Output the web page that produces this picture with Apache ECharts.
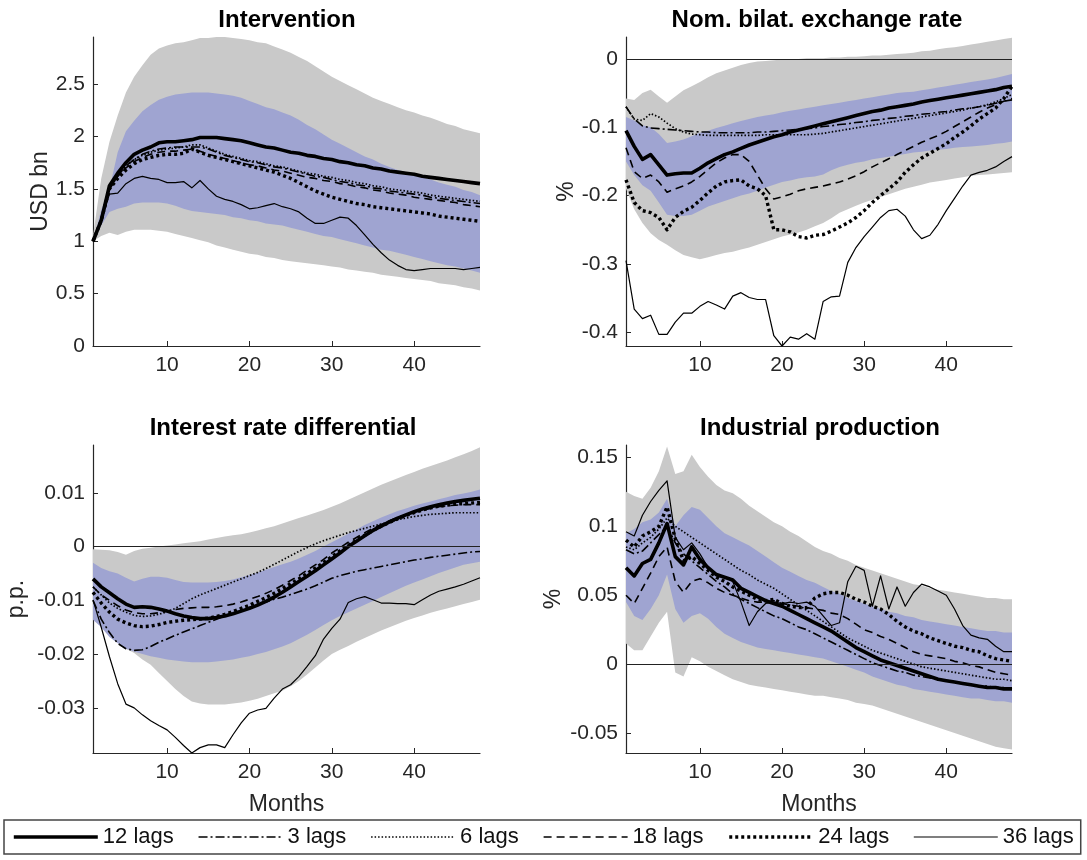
<!DOCTYPE html>
<html><head><meta charset="utf-8">
<script src="https://cdn.jsdelivr.net/npm/echarts@6/dist/echarts.min.js"></script>
<style>html,body{margin:0;padding:0;background:#fff}#c{width:1087px;height:860px}</style>
</head><body><div id="c"></div>
<script>
// ---------- data ----------
const months = [1,2,3,4,5,6,7,8,9,10,11,12,13,14,15,16,17,18,19,20,21,22,23,24,25,26,27,28,29,30,31,32,33,34,35,36,37,38,39,40,41,42,43,44,45,46,47,48];
const xTickValues = [10,20,30,40];
const lagNames = ['12 lags','3 lags','6 lags','18 lags','24 lags','36 lags'];
const panelTitles = ['Intervention','Nom. bilat. exchange rate','Interest rate differential','Industrial production'];
const yNames = ['USD bn','%','p.p.','%'];
const xName = 'Months';
const yTicks1 = [0,0.5,1,1.5,2,2.5];
const yTicks2 = [-0.4,-0.3,-0.2,-0.1,0];
const yTicks3 = [-0.03,-0.02,-0.01,0,0.01];
const yTicks4 = [-0.05,0,0.05,0.1,0.15];

// Panel 1: Intervention
const p1_12 = [1.0,1.2,1.53,1.65,1.75,1.83,1.87,1.9,1.94,1.95,1.95,1.96,1.97,1.99,1.99,1.99,1.98,1.97,1.96,1.94,1.92,1.9,1.89,1.87,1.85,1.84,1.82,1.81,1.79,1.78,1.76,1.75,1.73,1.72,1.7,1.69,1.67,1.66,1.65,1.64,1.62,1.61,1.6,1.59,1.58,1.57,1.56,1.55];
const p1_3 = [1.0,1.2,1.5,1.62,1.72,1.78,1.83,1.86,1.88,1.89,1.9,1.9,1.9,1.9,1.88,1.85,1.82,1.8,1.78,1.76,1.75,1.73,1.71,1.7,1.68,1.66,1.64,1.62,1.61,1.59,1.57,1.56,1.54,1.53,1.51,1.5,1.48,1.47,1.46,1.45,1.44,1.42,1.41,1.4,1.39,1.38,1.37,1.36];
const p1_6 = [1.0,1.22,1.5,1.63,1.72,1.78,1.82,1.85,1.87,1.88,1.89,1.9,1.92,1.92,1.89,1.86,1.83,1.81,1.79,1.77,1.76,1.74,1.72,1.71,1.69,1.67,1.65,1.64,1.62,1.61,1.59,1.58,1.56,1.55,1.53,1.52,1.5,1.49,1.48,1.47,1.46,1.44,1.43,1.42,1.41,1.4,1.39,1.38];
const p1_18 = [1.0,1.2,1.5,1.62,1.7,1.76,1.8,1.83,1.85,1.86,1.86,1.87,1.88,1.86,1.83,1.81,1.79,1.77,1.75,1.73,1.72,1.7,1.68,1.67,1.65,1.63,1.61,1.6,1.58,1.57,1.55,1.54,1.52,1.51,1.49,1.48,1.46,1.45,1.44,1.42,1.41,1.4,1.39,1.38,1.37,1.35,1.34,1.33];
const p1_24 = [1.0,1.2,1.5,1.6,1.68,1.74,1.78,1.8,1.82,1.83,1.83,1.84,1.88,1.85,1.82,1.8,1.78,1.76,1.74,1.72,1.7,1.68,1.66,1.63,1.6,1.56,1.52,1.48,1.45,1.42,1.4,1.38,1.36,1.35,1.33,1.32,1.31,1.3,1.29,1.28,1.27,1.26,1.24,1.23,1.22,1.21,1.2,1.19];
const p1_36 = [1.0,1.2,1.45,1.46,1.55,1.6,1.62,1.6,1.59,1.56,1.56,1.57,1.51,1.58,1.5,1.43,1.4,1.38,1.35,1.31,1.32,1.34,1.36,1.33,1.31,1.28,1.22,1.17,1.17,1.2,1.23,1.22,1.15,1.06,0.97,0.89,0.82,0.77,0.73,0.72,0.73,0.74,0.74,0.74,0.74,0.73,0.74,0.75];
const p1_grayHi = [1.05,1.6,1.95,2.2,2.42,2.57,2.68,2.78,2.84,2.87,2.89,2.9,2.92,2.94,2.94,2.95,2.95,2.94,2.93,2.92,2.9,2.89,2.86,2.83,2.8,2.76,2.72,2.67,2.62,2.57,2.53,2.49,2.45,2.41,2.37,2.34,2.31,2.28,2.25,2.23,2.2,2.18,2.15,2.12,2.1,2.07,2.05,2.03];
const p1_grayLo = [1.0,1.05,1.08,1.06,1.09,1.11,1.11,1.11,1.1,1.09,1.07,1.05,1.03,1.01,0.99,0.96,0.94,0.92,0.9,0.88,0.87,0.85,0.84,0.82,0.81,0.8,0.79,0.78,0.77,0.76,0.75,0.73,0.72,0.71,0.7,0.68,0.67,0.66,0.65,0.64,0.63,0.62,0.6,0.59,0.58,0.56,0.55,0.53];
const p1_blueHi = [1.0,1.3,1.5,1.85,2.05,2.15,2.24,2.3,2.35,2.38,2.4,2.41,2.42,2.42,2.42,2.41,2.4,2.39,2.37,2.34,2.31,2.28,2.26,2.23,2.2,2.16,2.11,2.07,2.02,1.97,1.93,1.89,1.85,1.81,1.78,1.74,1.71,1.68,1.66,1.63,1.61,1.59,1.56,1.54,1.52,1.49,1.47,1.44];
const p1_blueLo = [1.0,1.15,1.28,1.31,1.33,1.36,1.37,1.37,1.37,1.36,1.34,1.31,1.29,1.28,1.27,1.26,1.25,1.23,1.22,1.2,1.19,1.17,1.16,1.15,1.13,1.11,1.09,1.07,1.05,1.04,1.02,1.0,0.98,0.96,0.94,0.92,0.91,0.89,0.87,0.85,0.83,0.81,0.79,0.77,0.76,0.74,0.72,0.7];

// Panel 2: Nominal bilateral exchange rate
const p2_12 = [-0.105,-0.128,-0.147,-0.14,-0.155,-0.17,-0.168,-0.167,-0.167,-0.16,-0.152,-0.146,-0.14,-0.136,-0.131,-0.126,-0.122,-0.118,-0.114,-0.111,-0.107,-0.104,-0.101,-0.098,-0.095,-0.092,-0.089,-0.086,-0.083,-0.08,-0.077,-0.075,-0.072,-0.07,-0.068,-0.066,-0.063,-0.061,-0.059,-0.057,-0.055,-0.053,-0.051,-0.049,-0.047,-0.045,-0.042,-0.04];
const p2_3 = [-0.07,-0.088,-0.098,-0.101,-0.102,-0.103,-0.104,-0.105,-0.106,-0.107,-0.107,-0.108,-0.108,-0.108,-0.108,-0.108,-0.107,-0.107,-0.106,-0.105,-0.104,-0.103,-0.102,-0.101,-0.099,-0.098,-0.096,-0.095,-0.093,-0.092,-0.09,-0.089,-0.087,-0.086,-0.084,-0.083,-0.081,-0.08,-0.078,-0.077,-0.075,-0.073,-0.072,-0.07,-0.068,-0.065,-0.062,-0.06];
const p2_6 = [-0.07,-0.088,-0.09,-0.08,-0.085,-0.094,-0.102,-0.107,-0.11,-0.111,-0.112,-0.112,-0.112,-0.112,-0.112,-0.112,-0.112,-0.111,-0.111,-0.111,-0.111,-0.111,-0.111,-0.11,-0.109,-0.107,-0.105,-0.103,-0.101,-0.099,-0.097,-0.095,-0.093,-0.091,-0.089,-0.087,-0.085,-0.083,-0.081,-0.079,-0.077,-0.075,-0.072,-0.07,-0.067,-0.063,-0.058,-0.052];
const p2_18 = [-0.13,-0.165,-0.175,-0.17,-0.18,-0.195,-0.19,-0.186,-0.18,-0.172,-0.162,-0.152,-0.145,-0.14,-0.14,-0.15,-0.17,-0.19,-0.205,-0.202,-0.198,-0.193,-0.19,-0.188,-0.186,-0.183,-0.18,-0.176,-0.171,-0.165,-0.158,-0.152,-0.146,-0.14,-0.134,-0.128,-0.122,-0.117,-0.112,-0.106,-0.099,-0.092,-0.085,-0.078,-0.072,-0.067,-0.062,-0.058];
const p2_24 = [-0.177,-0.21,-0.222,-0.225,-0.232,-0.25,-0.232,-0.223,-0.217,-0.207,-0.196,-0.186,-0.18,-0.178,-0.177,-0.186,-0.19,-0.2,-0.25,-0.25,-0.253,-0.26,-0.262,-0.258,-0.257,-0.252,-0.246,-0.24,-0.232,-0.222,-0.21,-0.2,-0.19,-0.18,-0.166,-0.155,-0.145,-0.138,-0.131,-0.124,-0.115,-0.107,-0.098,-0.088,-0.08,-0.072,-0.058,-0.04];
const p2_36 = [-0.295,-0.366,-0.38,-0.375,-0.403,-0.403,-0.385,-0.372,-0.372,-0.362,-0.355,-0.36,-0.366,-0.347,-0.342,-0.349,-0.352,-0.352,-0.405,-0.42,-0.407,-0.41,-0.402,-0.41,-0.355,-0.348,-0.347,-0.298,-0.276,-0.26,-0.246,-0.232,-0.222,-0.22,-0.23,-0.25,-0.263,-0.258,-0.242,-0.222,-0.204,-0.186,-0.17,-0.166,-0.163,-0.158,-0.15,-0.143];
const p2_grayHi = [-0.058,-0.06,-0.05,-0.045,-0.055,-0.064,-0.055,-0.046,-0.04,-0.034,-0.027,-0.021,-0.017,-0.013,-0.009,-0.006,-0.004,-0.003,-0.002,-0.001,0,0,0.001,0.001,0.001,0.002,0.002,0.003,0.003,0.004,0.005,0.005,0.006,0.007,0.008,0.009,0.011,0.012,0.014,0.016,0.017,0.019,0.021,0.023,0.025,0.027,0.029,0.031];
const p2_grayLo = [-0.19,-0.22,-0.24,-0.255,-0.265,-0.272,-0.28,-0.287,-0.29,-0.293,-0.29,-0.287,-0.284,-0.282,-0.279,-0.276,-0.272,-0.268,-0.264,-0.26,-0.257,-0.254,-0.25,-0.245,-0.24,-0.233,-0.225,-0.22,-0.215,-0.21,-0.206,-0.202,-0.198,-0.194,-0.19,-0.187,-0.184,-0.181,-0.179,-0.177,-0.175,-0.173,-0.171,-0.17,-0.169,-0.168,-0.167,-0.166];
const p2_blueHi = [-0.085,-0.09,-0.097,-0.1,-0.11,-0.123,-0.121,-0.118,-0.113,-0.108,-0.105,-0.101,-0.098,-0.094,-0.091,-0.088,-0.085,-0.083,-0.081,-0.078,-0.076,-0.074,-0.072,-0.07,-0.068,-0.066,-0.064,-0.062,-0.06,-0.058,-0.056,-0.054,-0.052,-0.05,-0.049,-0.048,-0.046,-0.044,-0.042,-0.04,-0.038,-0.036,-0.034,-0.032,-0.03,-0.028,-0.025,-0.022];
const p2_blueLo = [-0.15,-0.17,-0.185,-0.193,-0.21,-0.228,-0.23,-0.23,-0.228,-0.222,-0.216,-0.212,-0.208,-0.204,-0.2,-0.197,-0.193,-0.188,-0.184,-0.18,-0.178,-0.175,-0.173,-0.172,-0.169,-0.163,-0.158,-0.155,-0.152,-0.15,-0.147,-0.145,-0.143,-0.141,-0.139,-0.137,-0.136,-0.134,-0.133,-0.132,-0.13,-0.129,-0.128,-0.127,-0.126,-0.124,-0.123,-0.121];

// Panel 3: Interest rate differential
const p3_12 = [-0.006,-0.0075,-0.0086,-0.0097,-0.0107,-0.0113,-0.0112,-0.0113,-0.0116,-0.012,-0.0125,-0.0129,-0.0132,-0.0134,-0.0134,-0.0132,-0.0129,-0.0125,-0.012,-0.0115,-0.0109,-0.0102,-0.0094,-0.0085,-0.0075,-0.0065,-0.0055,-0.0045,-0.0034,-0.0023,-0.0012,0,0.001,0.002,0.003,0.0038,0.0046,0.0053,0.0059,0.0065,0.007,0.0074,0.0078,0.0081,0.0084,0.0086,0.0088,0.009];
const p3_3 = [-0.01,-0.0135,-0.016,-0.018,-0.019,-0.0193,-0.0192,-0.0186,-0.0178,-0.0172,-0.0165,-0.0159,-0.0153,-0.0147,-0.0141,-0.0135,-0.0129,-0.0124,-0.0118,-0.0113,-0.0107,-0.0103,-0.0098,-0.0094,-0.0089,-0.0084,-0.0079,-0.0073,-0.0066,-0.0059,-0.0054,-0.005,-0.0046,-0.0043,-0.004,-0.0037,-0.0034,-0.0031,-0.0028,-0.0025,-0.0023,-0.002,-0.0018,-0.0016,-0.0014,-0.0012,-0.001,-0.0009];
const p3_6 = [-0.0075,-0.009,-0.0105,-0.0115,-0.0122,-0.0128,-0.013,-0.0129,-0.0126,-0.0121,-0.0115,-0.0106,-0.0097,-0.009,-0.0084,-0.0078,-0.0072,-0.0066,-0.006,-0.0054,-0.0048,-0.0041,-0.0033,-0.0025,-0.0017,-0.0009,-0.0002,0.0005,0.0011,0.0016,0.0021,0.0026,0.003,0.0034,0.0038,0.0042,0.0046,0.005,0.0053,0.0056,0.0058,0.006,0.0061,0.0062,0.0063,0.0063,0.0063,0.0063];
const p3_18 = [-0.0075,-0.009,-0.01,-0.011,-0.0118,-0.0123,-0.0125,-0.0125,-0.0123,-0.012,-0.0117,-0.0115,-0.0114,-0.0113,-0.0113,-0.0112,-0.011,-0.0107,-0.0103,-0.0098,-0.0093,-0.0087,-0.008,-0.0072,-0.0063,-0.0054,-0.0044,-0.0034,-0.0024,-0.0012,-0.0002,0.0008,0.0017,0.0026,0.0034,0.0041,0.0048,0.0054,0.0059,0.0064,0.0068,0.0071,0.0074,0.0076,0.0077,0.0078,0.0078,0.0078];
const p3_24 = [-0.0085,-0.0105,-0.0122,-0.0135,-0.0142,-0.0147,-0.0149,-0.0148,-0.0145,-0.0141,-0.0139,-0.0137,-0.0136,-0.0135,-0.0133,-0.013,-0.0126,-0.0121,-0.0115,-0.0109,-0.0102,-0.0095,-0.0087,-0.0078,-0.0069,-0.006,-0.005,-0.004,-0.003,-0.0019,-0.0008,0.0002,0.0012,0.0021,0.003,0.0038,0.0045,0.0052,0.0058,0.0063,0.0068,0.0072,0.0075,0.0077,0.0079,0.008,0.0081,0.0082];
const p3_36 = [-0.0099,-0.015,-0.0205,-0.0255,-0.0293,-0.03,-0.0313,-0.0324,-0.0333,-0.0341,-0.0355,-0.037,-0.0384,-0.0374,-0.0369,-0.0369,-0.0374,-0.035,-0.0328,-0.031,-0.0304,-0.0301,-0.0282,-0.0265,-0.0257,-0.0242,-0.0223,-0.0203,-0.0172,-0.0152,-0.0135,-0.0104,-0.0097,-0.0093,-0.0099,-0.0105,-0.0105,-0.0106,-0.0106,-0.0108,-0.0099,-0.009,-0.0083,-0.0079,-0.0075,-0.007,-0.0064,-0.0058];
const p3_grayHi = [-0.0005,-0.0006,-0.0007,-0.001,-0.0015,-0.0008,-0.0004,-0.0002,0,0.0002,0.0004,0.0006,0.0008,0.001,0.0013,0.0016,0.0019,0.0021,0.0023,0.0026,0.003,0.0034,0.0038,0.0043,0.0048,0.0053,0.0058,0.0063,0.0068,0.0074,0.008,0.0087,0.0094,0.0101,0.0108,0.0115,0.0121,0.0127,0.0133,0.0139,0.0145,0.015,0.0155,0.016,0.0166,0.0172,0.0178,0.0185];
const p3_grayLo = [-0.0093,-0.012,-0.015,-0.017,-0.019,-0.0198,-0.021,-0.022,-0.0235,-0.025,-0.0265,-0.0278,-0.0288,-0.0292,-0.0294,-0.0294,-0.0294,-0.0292,-0.029,-0.0287,-0.0283,-0.0278,-0.0273,-0.0268,-0.026,-0.025,-0.0238,-0.0225,-0.0212,-0.02,-0.0192,-0.0185,-0.0177,-0.017,-0.0163,-0.0156,-0.015,-0.0144,-0.0138,-0.0133,-0.0128,-0.0123,-0.0119,-0.0115,-0.0111,-0.0107,-0.0103,-0.0099];
const p3_blueHi = [-0.003,-0.004,-0.0046,-0.005,-0.0058,-0.0065,-0.006,-0.0056,-0.0056,-0.0058,-0.0062,-0.0066,-0.0067,-0.0067,-0.0067,-0.0066,-0.0064,-0.0061,-0.0057,-0.0053,-0.0048,-0.0043,-0.0038,-0.0033,-0.0028,-0.0022,-0.0015,-0.0008,0,0.0008,0.0016,0.0024,0.0032,0.004,0.0047,0.0054,0.006,0.0066,0.0071,0.0076,0.008,0.0084,0.0088,0.0092,0.0096,0.0099,0.0102,0.0106];
const p3_blueLo = [-0.0136,-0.015,-0.0168,-0.018,-0.019,-0.0195,-0.02,-0.0204,-0.0207,-0.021,-0.0212,-0.0214,-0.0215,-0.0215,-0.0215,-0.0214,-0.0212,-0.021,-0.0207,-0.0204,-0.02,-0.0196,-0.0191,-0.0186,-0.018,-0.0172,-0.0164,-0.0155,-0.0146,-0.0137,-0.0129,-0.0122,-0.0115,-0.0108,-0.0101,-0.0094,-0.0087,-0.008,-0.0073,-0.0067,-0.0061,-0.0055,-0.0049,-0.0044,-0.0039,-0.0034,-0.0031,-0.0028];

// Panel 4: Industrial production
const p4_12 = [0.07,0.064,0.073,0.076,0.088,0.102,0.078,0.072,0.085,0.076,0.07,0.065,0.063,0.061,0.055,0.052,0.049,0.046,0.044,0.042,0.039,0.036,0.033,0.03,0.027,0.024,0.02,0.016,0.012,0.009,0.006,0.003,0.001,-0.001,-0.003,-0.005,-0.007,-0.009,-0.011,-0.012,-0.013,-0.014,-0.015,-0.016,-0.017,-0.017,-0.018,-0.018];
const p4_3 = [0.083,0.08,0.082,0.088,0.094,0.1,0.088,0.08,0.075,0.07,0.065,0.06,0.056,0.051,0.047,0.044,0.041,0.038,0.035,0.033,0.03,0.027,0.025,0.022,0.019,0.016,0.013,0.01,0.007,0.004,0.001,-0.001,-0.003,-0.005,-0.006,-0.008,-0.009,-0.01,-0.011,-0.012,-0.013,-0.014,-0.015,-0.016,-0.016,-0.017,-0.017,-0.018];
const p4_6 = [0.085,0.083,0.088,0.092,0.098,0.106,0.1,0.096,0.092,0.088,0.084,0.08,0.076,0.072,0.068,0.065,0.061,0.058,0.055,0.051,0.047,0.043,0.039,0.035,0.031,0.027,0.023,0.019,0.016,0.013,0.01,0.008,0.006,0.004,0.002,0,-0.002,-0.003,-0.004,-0.005,-0.006,-0.007,-0.008,-0.009,-0.01,-0.011,-0.011,-0.012];
const p4_18 = [0.05,0.044,0.055,0.066,0.078,0.085,0.06,0.052,0.06,0.062,0.059,0.055,0.052,0.05,0.048,0.046,0.045,0.045,0.046,0.044,0.043,0.042,0.041,0.04,0.039,0.037,0.036,0.033,0.029,0.025,0.023,0.02,0.018,0.015,0.012,0.009,0.007,0.006,0.005,0.004,0.002,0.001,-0.001,-0.002,-0.004,-0.006,-0.007,-0.008];
const p4_24 = [0.09,0.085,0.093,0.096,0.1,0.114,0.091,0.075,0.078,0.073,0.068,0.063,0.06,0.056,0.053,0.05,0.047,0.046,0.047,0.044,0.042,0.041,0.041,0.048,0.051,0.052,0.052,0.05,0.047,0.045,0.042,0.04,0.036,0.031,0.027,0.024,0.022,0.019,0.017,0.015,0.013,0.012,0.01,0.009,0.006,0.004,0.003,0.002];
const p4_36 = [0.096,0.093,0.108,0.118,0.126,0.133,0.092,0.083,0.088,0.08,0.07,0.064,0.063,0.06,0.045,0.028,0.038,0.044,0.045,0.044,0.045,0.044,0.045,0.042,0.035,0.028,0.03,0.06,0.071,0.068,0.042,0.064,0.04,0.056,0.042,0.052,0.058,0.056,0.053,0.05,0.04,0.028,0.021,0.019,0.018,0.013,0.009,0.009];
const p4_grayHi = [0.125,0.122,0.12,0.128,0.14,0.158,0.138,0.14,0.152,0.143,0.136,0.13,0.126,0.124,0.12,0.115,0.111,0.107,0.103,0.1,0.096,0.093,0.089,0.085,0.082,0.08,0.077,0.075,0.072,0.07,0.068,0.066,0.064,0.062,0.06,0.058,0.057,0.055,0.054,0.053,0.052,0.051,0.05,0.049,0.048,0.048,0.047,0.047];
const p4_grayLo = [0.015,0.01,0.01,0.02,0.03,0.038,-0.006,-0.009,0.005,0.002,-0.002,-0.005,-0.008,-0.011,-0.013,-0.015,-0.016,-0.017,-0.018,-0.019,-0.02,-0.021,-0.022,-0.023,-0.023,-0.024,-0.025,-0.026,-0.028,-0.029,-0.03,-0.032,-0.034,-0.036,-0.038,-0.04,-0.042,-0.044,-0.046,-0.048,-0.05,-0.052,-0.054,-0.056,-0.058,-0.06,-0.061,-0.062];
const p4_blueHi = [0.095,0.098,0.103,0.105,0.11,0.12,0.1,0.108,0.114,0.112,0.106,0.1,0.095,0.092,0.089,0.086,0.082,0.078,0.074,0.07,0.067,0.064,0.061,0.059,0.056,0.053,0.051,0.048,0.046,0.044,0.042,0.04,0.038,0.037,0.035,0.034,0.032,0.031,0.03,0.029,0.028,0.027,0.026,0.025,0.024,0.024,0.023,0.023];
const p4_blueLo = [0.045,0.035,0.032,0.04,0.05,0.065,0.04,0.03,0.035,0.037,0.033,0.027,0.022,0.019,0.016,0.014,0.012,0.011,0.01,0.009,0.008,0.007,0.006,0.005,0.004,0.002,0,-0.002,-0.004,-0.006,-0.009,-0.011,-0.013,-0.015,-0.016,-0.018,-0.019,-0.02,-0.021,-0.022,-0.023,-0.024,-0.025,-0.025,-0.026,-0.027,-0.027,-0.028];

// ---------- layout & style ----------
const FONT = '"Liberation Sans", Arial, sans-serif';
const TXT = '#262626';
const GRAY = '#c9c9c9';
const BLUE = '#9fa4d1';
const panels = [
  {lines:[p1_12,p1_3,p1_6,p1_18,p1_24,p1_36], gHi:p1_grayHi, gLo:p1_grayLo, bHi:p1_blueHi, bLo:p1_blueLo, yTicks:yTicks1, min:0, max:2.95, zero:false,
   grid:{left:93, top:37, width:387, height:309}, title:[287,20], nameGap:40, xName:false},
  {lines:[p2_12,p2_3,p2_6,p2_18,p2_24,p2_36], gHi:p2_grayHi, gLo:p2_grayLo, bHi:p2_blueHi, bLo:p2_blueLo, yTicks:yTicks2, min:-0.42, max:0.032, zero:true,
   grid:{left:626, top:37, width:386, height:309}, title:[817,20], nameGap:47, xName:false},
  {lines:[p3_12,p3_3,p3_6,p3_18,p3_24,p3_36], gHi:p3_grayHi, gLo:p3_grayLo, bHi:p3_blueHi, bLo:p3_blueLo, yTicks:yTicks3, min:-0.0384, max:0.0189, zero:true,
   grid:{left:93, top:445, width:387, height:308}, title:[283,428], nameGap:65, xName:true},
  {lines:[p4_12,p4_3,p4_6,p4_18,p4_24,p4_36], gHi:p4_grayHi, gLo:p4_grayLo, bHi:p4_blueHi, bLo:p4_blueLo, yTicks:yTicks4, min:-0.0645, max:0.159, zero:true,
   grid:{left:626, top:445, width:386, height:308}, title:[820,428], nameGap:61, xName:true}
];
const lineStyles = [
  {width:3.6, type:'solid'},
  {width:1.6, type:[9,3,2,3]},
  {width:1.7, type:[1.5,2]},
  {width:1.6, type:[8,5]},
  {width:3.4, type:[3,3]},
  {width:1.2, type:'solid'}
];
const fmt = v => String(Math.round(v * 10000) / 10000);
const isXTick = (idx, val) => xTickValues.indexOf(Number(val)) >= 0;
const diff = (hi, lo) => hi.map((h, k) => h - lo[k]);

const grids = [], xAxes = [], yAxes = [], series = [], graphics = [];
panels.forEach((p, i) => {
  grids.push(Object.assign({containLabel:false}, p.grid));
  xAxes.push({type:'category', gridIndex:i, data:months, boundaryGap:false,
    name: p.xName ? xName : '', nameLocation:'middle', nameGap:40,
    nameTextStyle:{fontSize:23, color:TXT, fontFamily:FONT},
    axisLine:{show:true, onZero:false, lineStyle:{color:TXT, width:1.2}},
    axisTick:{show:true, inside:true, length:5, interval:isXTick, lineStyle:{color:TXT}},
    axisLabel:{show:true, interval:isXTick, fontSize:21, color:TXT, fontFamily:FONT, margin:9},
    splitLine:{show:false}});
  yAxes.push({type:'value', gridIndex:i, min:p.min, max:p.max,
    name: yNames[i], nameLocation:'middle', nameGap:p.nameGap, nameRotate:90,
    nameTextStyle:{fontSize:23, color:TXT, fontFamily:FONT},
    axisLine:{show:true, onZero:false, lineStyle:{color:TXT, width:1.2}},
    axisTick:{show:true, inside:true, length:5, customValues:p.yTicks, lineStyle:{color:TXT}},
    axisLabel:{show:true, customValues:p.yTicks, fontSize:21, color:TXT, fontFamily:FONT, margin:8, formatter:fmt},
    splitLine:{show:false}});
  const base = {type:'line', xAxisIndex:i, yAxisIndex:i, symbol:'none', silent:true, animation:false,
    emphasis:{disabled:true}, stackStrategy:'all'};
  series.push(Object.assign({}, base, {name:'gLo'+i, stack:'g'+i, data:p.gLo, lineStyle:{opacity:0}, z:1}));
  series.push(Object.assign({}, base, {name:'gBand'+i, stack:'g'+i, data:diff(p.gHi, p.gLo), lineStyle:{opacity:0}, areaStyle:{color:GRAY, opacity:1}, z:1}));
  series.push(Object.assign({}, base, {name:'bLo'+i, stack:'b'+i, data:p.bLo, lineStyle:{opacity:0}, z:2}));
  series.push(Object.assign({}, base, {name:'bBand'+i, stack:'b'+i, data:diff(p.bHi, p.bLo), lineStyle:{opacity:0}, areaStyle:{color:BLUE, opacity:1}, z:2}));
  if (p.zero) {
    series.push({type:'line', xAxisIndex:i, yAxisIndex:i, name:'zero'+i, data:[], symbol:'none', silent:true, z:3,
      markLine:{silent:true, symbol:'none', label:{show:false}, animation:false,
        lineStyle:{color:'#222', width:1.1, type:'solid'}, data:[{yAxis:0}]}});
  }
  [5,3,1,2,4,0].forEach(j => {
    series.push({type:'line', name:lagNames[j], xAxisIndex:i, yAxisIndex:i, data:p.lines[j],
      symbol:'none', showSymbol:false, silent:true, animation:false, emphasis:{disabled:true}, z:4,
      lineStyle:Object.assign({color:'#000', cap:'butt', join:'round'}, lineStyles[j]),
      itemStyle:{color:'#000'}});
  });
  graphics.push({type:'text', x:p.title[0], y:p.title[1],
    style:{text:panelTitles[i], fontSize:24, fontWeight:'bold', fontFamily:FONT, fill:'#000', align:'center', verticalAlign:'middle'}});
});

const legendData = lagNames.map((n, j) => ({name:n,
  lineStyle:{color:'#000', width:lineStyles[j].width, type:lineStyles[j].type, cap:'butt'}}));

const chart = echarts.init(document.getElementById('c'), null, {renderer:'canvas'});
chart.setOption({
  animation:false,
  backgroundColor:'#fff',
  grid:grids, xAxis:xAxes, yAxis:yAxes, series:series, graphic:graphics,
  legend:{data:legendData, left:4, top:820, itemWidth:84, itemHeight:14, itemGap:24, selectedMode:false,
    textStyle:{fontSize:22, color:'#111', fontFamily:FONT}, borderColor:'#444', borderWidth:1.5,
    padding:[6,7,6,8], itemStyle:{opacity:0}}
});
</script>
</body></html>
